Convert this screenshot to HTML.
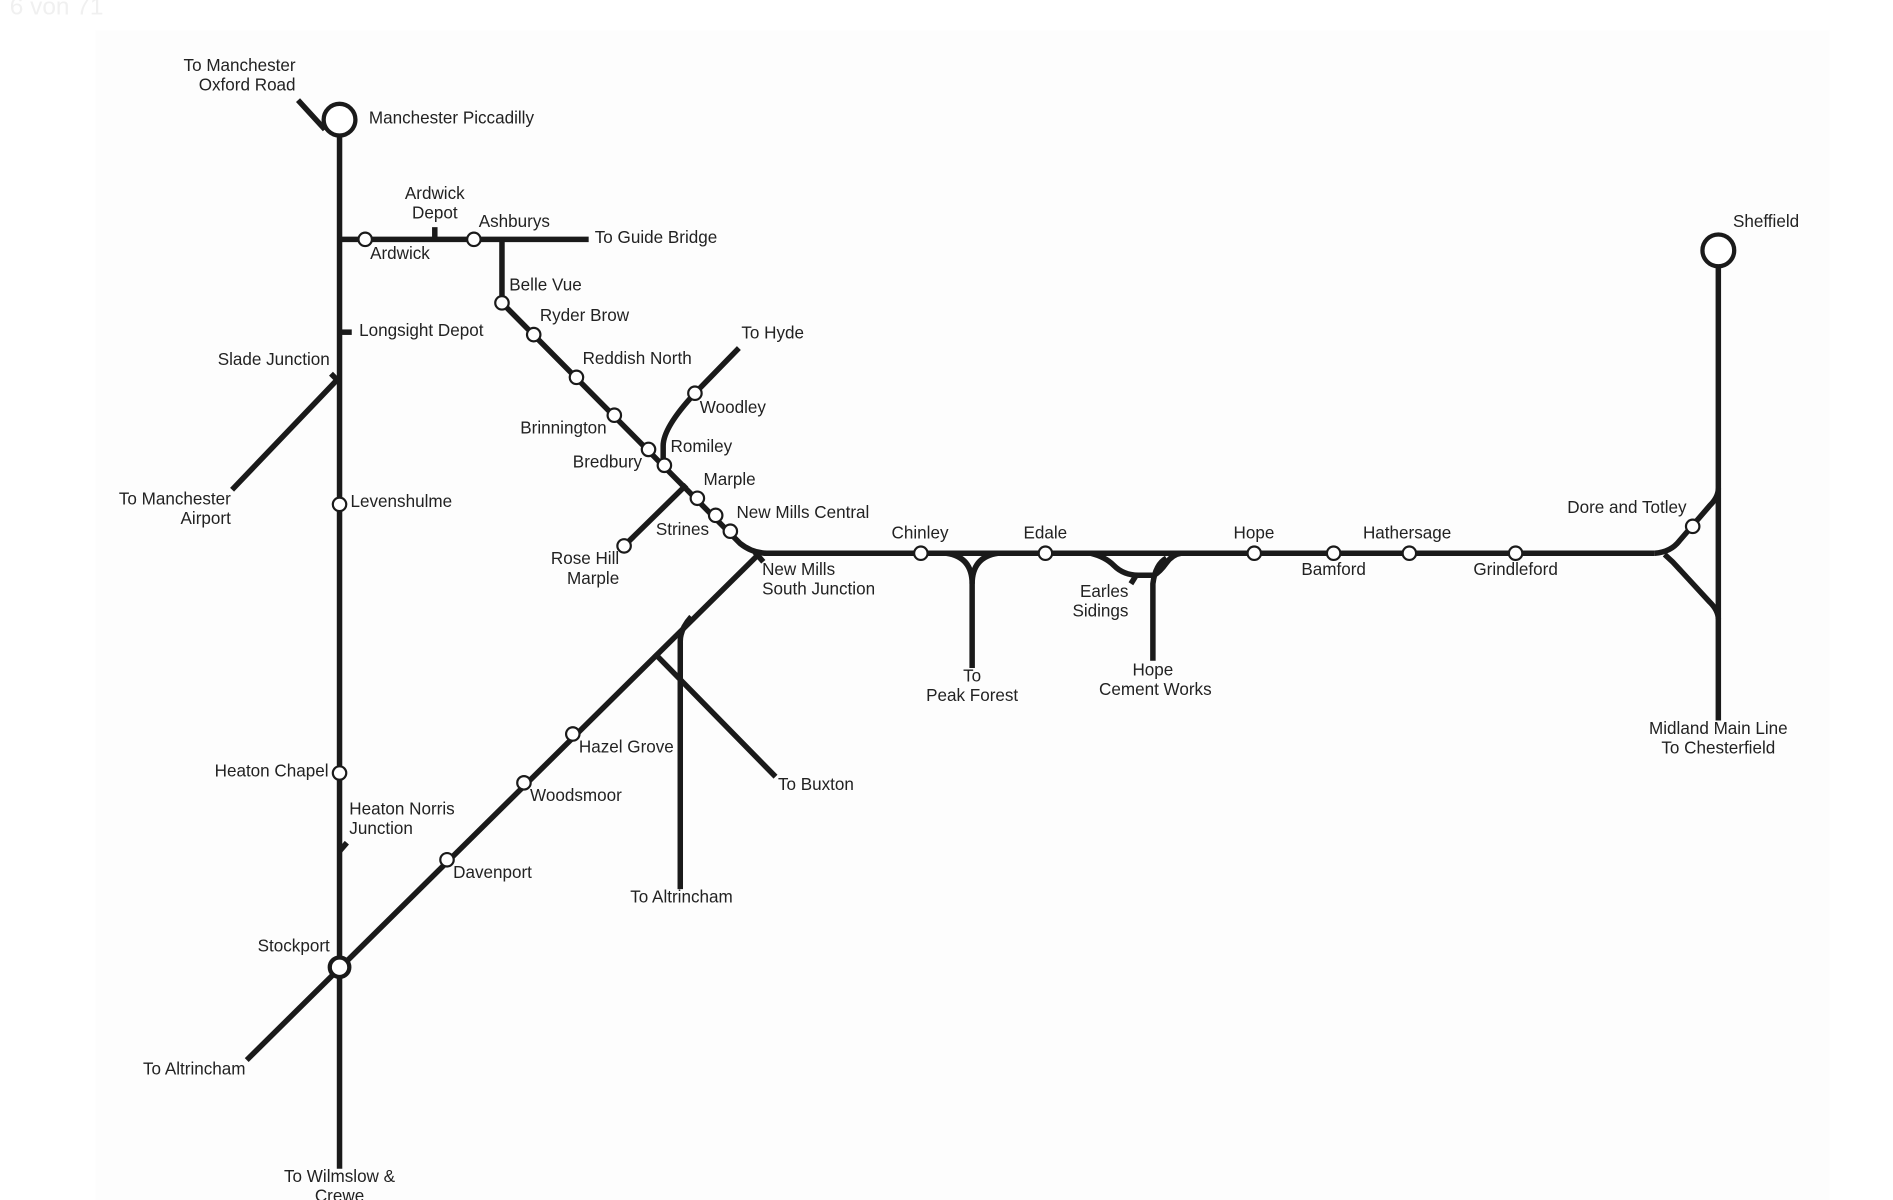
<!DOCTYPE html>
<html><head><meta charset="utf-8"><style>
html,body{margin:0;padding:0;background:#fff;}
svg{display:block;}
text{font-family:"Liberation Sans",Arial,sans-serif;font-size:14px;fill:#222;}
</style></head><body>
<svg width="1893" height="1200" viewBox="0 0 1550 982.6" xmlns="http://www.w3.org/2000/svg">
<rect x="0" y="0" width="1550" height="983" fill="#fff"/>
<rect x="78" y="25" width="1420" height="958" fill="#fdfdfd"/>
<text x="8" y="12" style="font-size:20px;fill:#f0f0f0">6 von 71</text>
<g fill="none" stroke="#1a1a1a" stroke-width="4.5" stroke-linecap="butt" stroke-linejoin="round">
<line x1="278" y1="111" x2="278" y2="957"/>
<line x1="244" y1="82" x2="266" y2="106"/>
<line x1="278" y1="196" x2="482" y2="196"/>
<line x1="356" y1="186" x2="356" y2="196"/>
<path d="M411 196 L411 248 L606 445 Q616 453 628 453 L1355 453"/>
<path d="M605 285 L569 322 Q543 350 543 365 L543 381"/>
<line x1="562" y1="397" x2="511" y2="447"/>
<line x1="278" y1="272" x2="288" y2="272"/>
<line x1="276" y1="311" x2="190" y2="401"/>
<line x1="271" y1="306" x2="277" y2="312"/>
<line x1="278" y1="697" x2="284" y2="690"/>
<line x1="202" y1="868" x2="620" y2="455"/>
<line x1="618" y1="452" x2="625" y2="460"/>
<path d="M557 728 L557 525 Q557 515 566 505"/>
<line x1="536" y1="535" x2="635" y2="636"/>
<path d="M775 453 Q796 456 796 478 L796 547"/>
<path d="M817 453 Q796 456 796 478"/>
<path d="M893 453 Q905 456 912 463 Q920 471 932 471 L945 471 Q950 468 955 461 Q960 454 967 453"/>
<path d="M944 541 L944 478 Q946 462 955 457"/>
<line x1="926" y1="478" x2="931" y2="470"/>
<path d="M1355 453 Q1368 452 1375 443 L1400 414 Q1407 407 1407 400"/>
<path d="M1363 454 Q1370 460 1376 467 L1400 493 Q1407 500 1407 507"/>
<line x1="1407" y1="219" x2="1407" y2="590"/>
</g>
<g fill="#fff" stroke="#1a1a1a" stroke-width="3.5">
<circle cx="278" cy="98" r="13"/>
<circle cx="1407" cy="205" r="13"/>
<circle cx="278" cy="792" r="8"/>
</g>
<g fill="#fff" stroke="#1a1a1a" stroke-width="1.8">
<circle cx="299" cy="196" r="5.5"/><circle cx="388" cy="196" r="5.5"/>
<circle cx="411" cy="248" r="5.5"/><circle cx="437" cy="274" r="5.5"/>
<circle cx="472" cy="309" r="5.5"/><circle cx="503" cy="340" r="5.5"/>
<circle cx="531" cy="368" r="5.5"/><circle cx="544" cy="381" r="5.5"/>
<circle cx="571" cy="408" r="5.5"/><circle cx="586" cy="422" r="5.5"/>
<circle cx="598" cy="435" r="5.5"/><circle cx="569" cy="322" r="5.5"/>
<circle cx="511" cy="447" r="5.5"/><circle cx="278" cy="413" r="5.5"/>
<circle cx="278" cy="633" r="5.5"/><circle cx="366" cy="704" r="5.5"/>
<circle cx="429" cy="641" r="5.5"/><circle cx="469" cy="601" r="5.5"/>
<circle cx="754" cy="453" r="5.5"/><circle cx="856" cy="453" r="5.5"/>
<circle cx="1027" cy="453" r="5.5"/><circle cx="1092" cy="453" r="5.5"/>
<circle cx="1154" cy="453" r="5.5"/><circle cx="1241" cy="453" r="5.5"/>
<circle cx="1386" cy="431" r="5.5"/>
</g>
<g>
<text x="242" y="58" text-anchor="end">To Manchester</text>
<text x="242" y="74" text-anchor="end">Oxford Road</text>
<text x="302" y="101">Manchester Piccadilly</text>
<text x="356" y="163" text-anchor="middle">Ardwick</text>
<text x="356" y="179" text-anchor="middle">Depot</text>
<text x="392" y="186">Ashburys</text>
<text x="487" y="199">To Guide Bridge</text>
<text x="303" y="212">Ardwick</text>
<text x="417" y="238">Belle Vue</text>
<text x="442" y="263">Ryder Brow</text>
<text x="477" y="298">Reddish North</text>
<text x="607" y="277">To Hyde</text>
<text x="294" y="275">Longsight Depot</text>
<text x="270" y="299" text-anchor="end">Slade Junction</text>
<text x="573" y="338">Woodley</text>
<text x="426" y="355">Brinnington</text>
<text x="549" y="370">Romiley</text>
<text x="469" y="383">Bredbury</text>
<text x="576" y="397">Marple</text>
<text x="189" y="413" text-anchor="end">To Manchester</text>
<text x="189" y="429" text-anchor="end">Airport</text>
<text x="287" y="415">Levenshulme</text>
<text x="603" y="424">New Mills Central</text>
<text x="537" y="438">Strines</text>
<text x="730" y="441">Chinley</text>
<text x="838" y="441">Edale</text>
<text x="1010" y="441">Hope</text>
<text x="1116" y="441">Hathersage</text>
<text x="1381" y="420" text-anchor="end">Dore and Totley</text>
<text x="1419" y="186">Sheffield</text>
<text x="507" y="462" text-anchor="end">Rose Hill</text>
<text x="507" y="478" text-anchor="end">Marple</text>
<text x="624" y="471">New Mills</text>
<text x="624" y="487">South Junction</text>
<text x="1092" y="471" text-anchor="middle">Bamford</text>
<text x="1241" y="471" text-anchor="middle">Grindleford</text>
<text x="924" y="489" text-anchor="end">Earles</text>
<text x="924" y="505" text-anchor="end">Sidings</text>
<text x="944" y="553" text-anchor="middle">Hope</text>
<text x="946" y="569" text-anchor="middle">Cement Works</text>
<text x="796" y="558" text-anchor="middle">To</text>
<text x="796" y="574" text-anchor="middle">Peak Forest</text>
<text x="1407" y="601" text-anchor="middle">Midland Main Line</text>
<text x="1407" y="617" text-anchor="middle">To Chesterfield</text>
<text x="474" y="616">Hazel Grove</text>
<text x="269" y="636" text-anchor="end">Heaton Chapel</text>
<text x="637" y="647">To Buxton</text>
<text x="434" y="656">Woodsmoor</text>
<text x="286" y="667">Heaton Norris</text>
<text x="286" y="683">Junction</text>
<text x="371" y="719">Davenport</text>
<text x="558" y="739" text-anchor="middle">To Altrincham</text>
<text x="270" y="779" text-anchor="end">Stockport</text>
<text x="201" y="880" text-anchor="end">To Altrincham</text>
<text x="278" y="968" text-anchor="middle">To Wilmslow &amp;</text>
<text x="278" y="984" text-anchor="middle">Crewe</text>
</g>
</svg>
</body></html>
